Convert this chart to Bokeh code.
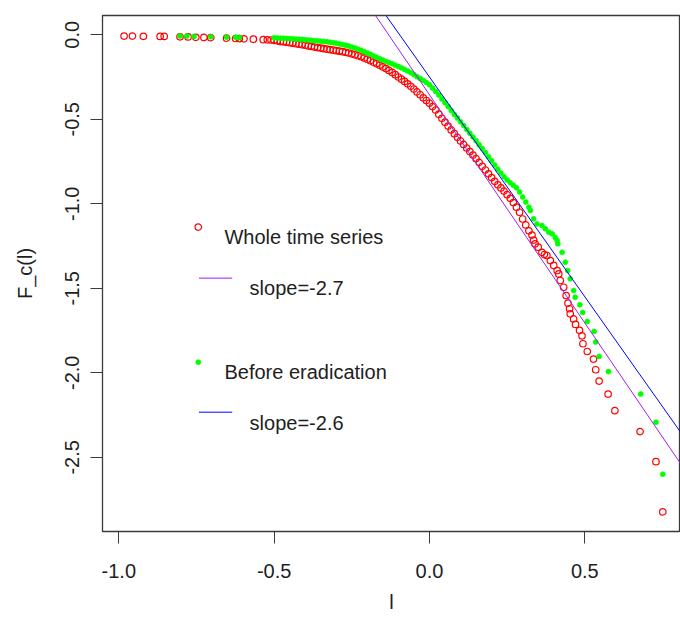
from bokeh.plotting import figure
from bokeh.models import Slope, Label, FixedTicker, NumeralTickFormatter, Range1d
from bokeh.embed import file_html
from bokeh.resources import INLINE

# ---------------- data ----------------
whole_x = [-0.983, -0.956, -0.921, -0.867, -0.854, -0.803, -0.777, -0.752, -0.726, -0.704,
           -0.653, -0.624, -0.612, -0.597, -0.567, -0.535, -0.522, -0.51,
           -0.50, -0.49, -0.48, -0.47, -0.46, -0.45, -0.44, -0.43, -0.42, -0.41,
           -0.40, -0.39, -0.38, -0.37, -0.36, -0.35, -0.34, -0.33, -0.32, -0.31,
           -0.30, -0.29, -0.28, -0.27, -0.26, -0.25, -0.24, -0.23, -0.22, -0.21,
           -0.20, -0.19, -0.18, -0.17, -0.16, -0.15, -0.14, -0.13, -0.12, -0.11,
           -0.10, -0.09, -0.08, -0.07, -0.06, -0.05, -0.04, -0.03, -0.02, -0.01,
           0.00, 0.01, 0.02, 0.03, 0.04, 0.05, 0.06, 0.07, 0.08, 0.09,
           0.10, 0.11, 0.12, 0.13, 0.14, 0.15, 0.16, 0.17, 0.18, 0.19,
           0.20, 0.21, 0.22, 0.23, 0.24, 0.25, 0.26, 0.27, 0.28, 0.29,
           0.30, 0.31, 0.32, 0.33, 0.335, 0.34, 0.35, 0.362, 0.37, 0.378,
           0.389, 0.40, 0.411, 0.416, 0.421, 0.432, 0.440, 0.446, 0.451, 0.453,
           0.464, 0.470, 0.483, 0.491, 0.494, 0.508, 0.528, 0.535, 0.546, 0.575,
           0.597, 0.678, 0.729, 0.751]
whole_y = [-0.008, -0.008, -0.009, -0.010, -0.010, -0.012, -0.013, -0.015, -0.016, -0.017,
           -0.020, -0.022, -0.023, -0.024, -0.026, -0.029, -0.030, -0.031,
           -0.033, -0.036, -0.040, -0.042, -0.045, -0.047, -0.050, -0.053, -0.056, -0.059,
           -0.062, -0.066, -0.069, -0.073, -0.076, -0.079, -0.082, -0.085, -0.088, -0.091,
           -0.094, -0.097, -0.100, -0.104, -0.108, -0.113, -0.118, -0.124, -0.130, -0.137,
           -0.145, -0.153, -0.162, -0.171, -0.180, -0.190, -0.200, -0.211, -0.223, -0.236,
           -0.250, -0.263, -0.276, -0.290, -0.305, -0.321, -0.338, -0.355, -0.373, -0.389,
           -0.405, -0.425, -0.445, -0.470, -0.494, -0.517, -0.540, -0.563, -0.585, -0.607,
           -0.628, -0.649, -0.670, -0.691, -0.712, -0.733, -0.755, -0.778, -0.800, -0.823,
           -0.845, -0.867, -0.888, -0.906, -0.925, -0.946, -0.968, -0.993, -1.020, -1.050,
           -1.090, -1.125, -1.160, -1.185, -1.215, -1.237, -1.257, -1.287, -1.300, -1.306,
           -1.336, -1.365, -1.395, -1.415, -1.454, -1.494, -1.543, -1.588, -1.621, -1.651,
           -1.681, -1.714, -1.749, -1.781, -1.828, -1.874, -1.919, -1.982, -2.049, -2.126,
           -2.224, -2.348, -2.526, -2.823]

before_x = [-0.803, -0.781, -0.758, -0.704, -0.653, -0.624, -0.612,
            -0.50, -0.49, -0.48, -0.47, -0.46, -0.45, -0.44, -0.43, -0.42, -0.41,
            -0.40, -0.39, -0.38, -0.37, -0.36, -0.35, -0.34, -0.33, -0.32, -0.31,
            -0.30, -0.29, -0.28, -0.27, -0.26, -0.25, -0.24, -0.23, -0.22, -0.21,
            -0.20, -0.19, -0.18, -0.17, -0.16, -0.15, -0.14, -0.13, -0.12, -0.11,
            -0.10, -0.09, -0.08, -0.07, -0.06, -0.05, -0.04, -0.03, -0.02, -0.01,
            0.00, 0.01, 0.02, 0.03, 0.04, 0.05, 0.06, 0.07, 0.08, 0.09,
            0.10, 0.11, 0.12, 0.13, 0.14, 0.15, 0.16, 0.17, 0.18, 0.19,
            0.20, 0.21, 0.22, 0.23, 0.24, 0.25, 0.26, 0.27, 0.28, 0.29,
            0.30, 0.31, 0.32, 0.325, 0.335, 0.346, 0.362, 0.373, 0.384, 0.395,
            0.405, 0.411, 0.413, 0.427, 0.437, 0.445, 0.453, 0.464, 0.469, 0.484,
            0.493, 0.508, 0.530, 0.535, 0.546, 0.576, 0.680, 0.729, 0.751]
before_y = [-0.008, -0.008, -0.010, -0.012, -0.014, -0.015, -0.016,
            -0.018, -0.019, -0.020, -0.021, -0.022, -0.023, -0.024, -0.026, -0.027, -0.028,
            -0.030, -0.031, -0.033, -0.035, -0.036, -0.038, -0.040, -0.042, -0.044, -0.047,
            -0.050, -0.054, -0.058, -0.062, -0.067, -0.072, -0.078, -0.085, -0.092, -0.100,
            -0.108, -0.116, -0.125, -0.133, -0.142, -0.150, -0.158, -0.165, -0.172, -0.180,
            -0.188, -0.196, -0.205, -0.215, -0.225, -0.236, -0.248, -0.259, -0.270, -0.282,
            -0.295, -0.315, -0.335, -0.357, -0.380, -0.402, -0.425, -0.448, -0.472, -0.493,
            -0.515, -0.537, -0.560, -0.582, -0.605, -0.627, -0.650, -0.673, -0.697, -0.721,
            -0.745, -0.770, -0.795, -0.818, -0.840, -0.860, -0.875, -0.890, -0.905, -0.930,
            -0.960, -0.990, -1.020, -1.040, -1.089, -1.119, -1.129, -1.148, -1.168, -1.178,
            -1.200, -1.217, -1.237, -1.287, -1.346, -1.395, -1.444, -1.513, -1.553, -1.598,
            -1.643, -1.696, -1.755, -1.818, -1.903, -1.993, -2.126, -2.293, -2.600]

fit_slopes = [-2.7, -2.6]          # whole series, before eradication
fit_intercepts = [-0.355, -0.25]

x_ticks = [-1.0, -0.5, 0.0, 0.5]
y_ticks = [0.0, -0.5, -1.0, -1.5, -2.0, -2.5]
legend_labels = ["Whole time series", "slope=-2.7", "Before eradication", "slope=-2.6"]
x_title = "l"
y_title = "F_c(l)"

# ---------------- styling ----------------
FONT = "Liberation Sans"
TXT = "#1e1e1e"
RED = "#FF0000"
GREEN = "#00FF00"
PURPLE = "#A020F0"
BLUE = "#0000FF"
FRAME = "#3a3a3a"

p = figure(width=680, height=621,
           x_range=Range1d(-1.0525, 0.808), y_range=Range1d(-2.939, 0.114),
           output_backend="svg", toolbar_location=None,
           min_border_left=102, min_border_top=15, min_border_right=0, min_border_bottom=90,
           background_fill_color="white", border_fill_color="white")

p.xgrid.visible = False
p.ygrid.visible = False
p.outline_line_color = FRAME
p.outline_line_width = 1.3

# data marks
p.scatter(whole_x, whole_y, marker="circle", size=6.5, fill_color=None,
          line_color=RED, line_width=1.2)
p.scatter(before_x, before_y, marker="circle", size=5, fill_color=GREEN,
          line_color=GREEN, line_width=0.6)

# fitted lines
p.add_layout(Slope(gradient=fit_slopes[0], y_intercept=fit_intercepts[0],
                   line_color=PURPLE, line_width=1))
p.add_layout(Slope(gradient=fit_slopes[1], y_intercept=fit_intercepts[1],
                   line_color=BLUE, line_width=1))

# axes
for ax, ticks in ((p.xaxis[0], x_ticks), (p.yaxis[0], y_ticks)):
    ax.ticker = FixedTicker(ticks=ticks)
    ax.formatter = NumeralTickFormatter(format="0.0")
    ax.minor_tick_line_color = None
    ax.major_tick_in = 0
    ax.major_tick_out = 12
    ax.axis_line_color = FRAME
    ax.major_tick_line_color = FRAME
    ax.major_label_text_font = FONT
    ax.major_label_text_font_size = "20px"
    ax.major_label_text_color = TXT
    ax.axis_label_text_font = FONT
    ax.axis_label_text_font_size = "20px"
    ax.axis_label_text_font_style = "normal"
    ax.axis_label_text_color = TXT

p.xaxis.axis_label = x_title
p.xaxis.major_label_standoff = 20
p.xaxis.axis_label_standoff = 10
p.yaxis.axis_label = y_title
p.yaxis.major_label_orientation = "vertical"
p.yaxis.major_label_standoff = 11
p.yaxis.axis_label_standoff = 27

# legend (drawn by hand, R style, no box)
sym_x = -0.744
seg_x = [-0.742, -0.635]
txt1_x = -0.660
txt2_x = -0.579
rows_y = [-1.138, -1.440, -1.937, -2.233]
base_y = [-1.198, -1.497, -1.996, -2.296]

p.scatter([sym_x], [rows_y[0]], marker="circle", size=6.5, fill_color=None,
          line_color=RED, line_width=1.2)
p.line(seg_x, [rows_y[1]] * 2, line_color=PURPLE, line_width=1)
p.scatter([sym_x], [rows_y[2]], marker="circle", size=5, fill_color=GREEN,
          line_color=GREEN, line_width=0.6)
p.line(seg_x, [rows_y[3]] * 2, line_color=BLUE, line_width=1)

for lab, lx, ly in zip(legend_labels, [txt1_x, txt2_x, txt1_x, txt2_x], base_y):
    p.add_layout(Label(x=lx, y=ly, text=lab, text_font=FONT, text_font_size="20px",
                       text_color=TXT, text_baseline="alphabetic", text_align="left"))

open("out.html", "w").write(file_html(p, INLINE))
